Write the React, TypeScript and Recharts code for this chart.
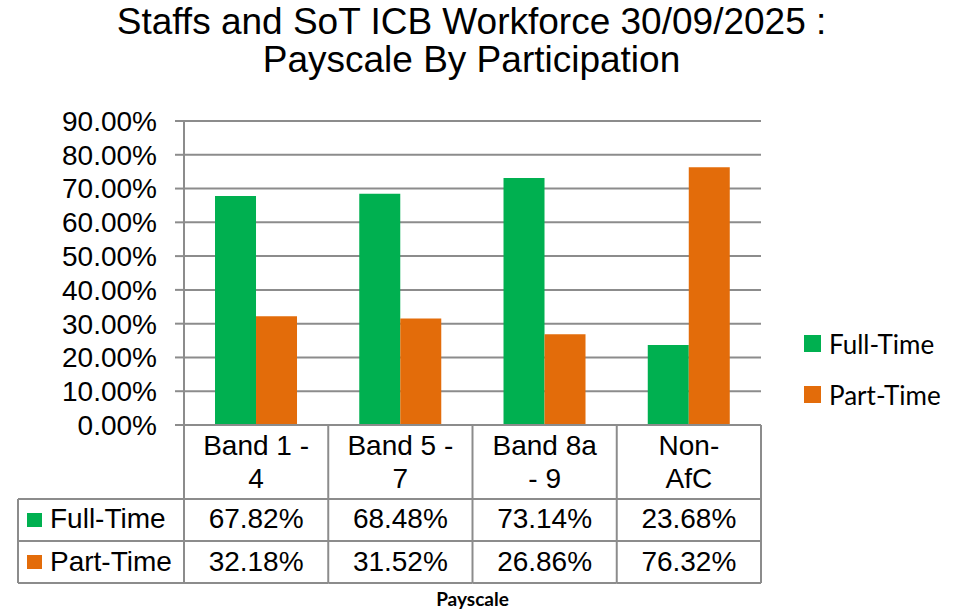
import React from "react";
import { BarChart, Bar, XAxis, YAxis, CartesianGrid, Legend } from "recharts";

// data
const categories = ["Band 1 - 4", "Band 5 - 7", "Band 8a - 9", "Non-AfC"];
const categoryLines = [["Band 1 -", "4"], ["Band 5 -", "7"], ["Band 8a", "- 9"], ["Non-", "AfC"]];
const fullTime = [67.82, 68.48, 73.14, 23.68];
const partTime = [32.18, 31.52, 26.86, 76.32];
const yTicks = [0, 10, 20, 30, 40, 50, 60, 70, 80, 90];

const GREEN = "#00B050";
const ORANGE = "#E36C0A";
const GRID = "#8C8C8C";
const FONT = "'Liberation Sans', Arial, sans-serif";
const LEGEND_FONT = "Lato, 'Open Sans', sans-serif";
const TEXT_SIZE = 28;

const W = 969;
const H = 610;
const PLOT_LEFT = 184;
const PLOT_RIGHT = 761;
const PLOT_TOP = 121;
const PLOT_BOTTOM = 425;
const BAND = (PLOT_RIGHT - PLOT_LEFT) / categories.length;
const TABLE_LEFT = 18;
const ROW_LINES = [499, 541, 583];

const data = categories.map((c, i) => ({ category: c, fullTime: fullTime[i], partTime: partTime[i] }));

const seriesRows = [
  { name: "Full-Time", color: GREEN, values: fullTime },
  { name: "Part-Time", color: ORANGE, values: partTime },
];

function TableTick(props: any) {
  const { x, index } = props;
  const left = x - BAND / 2;
  const right = x + BAND / 2;
  const lines = categoryLines[index] || [];
  return (
    <g>
      {index === 0 && (
        <line x1={left} x2={left} y1={PLOT_BOTTOM} y2={ROW_LINES[2]} stroke={GRID} strokeWidth={2} />
      )}
      <line x1={right} x2={right} y1={PLOT_BOTTOM} y2={ROW_LINES[2]} stroke={GRID} strokeWidth={2} />
      {ROW_LINES.map((ly) => (
        <line key={ly} x1={left} x2={right} y1={ly} y2={ly} stroke={GRID} strokeWidth={2} />
      ))}
      {lines.map((t, k) => (
        <text key={k} x={x} y={455 + k * 33} textAnchor="middle" fontSize={TEXT_SIZE} fontFamily={FONT} fill="#000">
          {t}
        </text>
      ))}
      {seriesRows.map((s, r) => (
        <text key={s.name} x={x} y={528 + r * 43} textAnchor="middle" fontSize={TEXT_SIZE} fontFamily={FONT} fill="#000">
          {s.values[index].toFixed(2)}%
        </text>
      ))}
      {index === 0 && (
        <g>
          <line x1={TABLE_LEFT} x2={TABLE_LEFT} y1={ROW_LINES[0]} y2={ROW_LINES[2]} stroke={GRID} strokeWidth={2} />
          {ROW_LINES.map((ly) => (
            <line key={ly} x1={TABLE_LEFT} x2={left} y1={ly} y2={ly} stroke={GRID} strokeWidth={2} />
          ))}
          {seriesRows.map((s, r) => (
            <g key={s.name}>
              <rect x={27} y={513 + r * 42} width={15} height={14} fill={s.color} />
              <text x={50} y={528 + r * 43} fontSize={TEXT_SIZE} fontFamily={FONT} fill="#000">
                {s.name}
              </text>
            </g>
          ))}
        </g>
      )}
    </g>
  );
}

function LegendContent(props: any) {
  const { payload } = props;
  return (
    <div style={{ fontFamily: LEGEND_FONT, fontSize: 26, color: "#000" }}>
      {(payload || []).map((p: any) => (
        <div key={p.value} style={{ display: "flex", alignItems: "center", height: 51 }}>
          <span style={{ display: "inline-block", width: 17, height: 17, background: p.color, marginRight: 8 }} />
          <span>{p.value}</span>
        </div>
      ))}
    </div>
  );
}

export default function App() {
  return (
    <div style={{ position: "absolute", left: 0, top: 0, width: W, height: H, background: "#fff" }}>
      <div
        style={{
          position: "absolute",
          left: 0,
          top: 3,
          width: 943,
          textAlign: "center",
          fontFamily: FONT,
          fontSize: 37,
          lineHeight: "38px",
          color: "#000",
        }}
      >
        Staffs and SoT ICB Workforce 30/09/2025 :<br />
        Payscale By Participation
      </div>
      <BarChart
        width={W}
        height={H}
        data={data}
        margin={{ top: PLOT_TOP, right: W - PLOT_RIGHT, bottom: 0, left: 14 }}
        barCategoryGap="21.5%"
        barGap={0}
      >
        <CartesianGrid vertical={false} stroke={GRID} strokeWidth={2} />
        <XAxis
          dataKey="category"
          height={H - PLOT_BOTTOM}
          interval={0}
          tick={<TableTick />}
          tickLine={false}
          axisLine={{ stroke: GRID, strokeWidth: 2 }}
        />
        <YAxis
          width={PLOT_LEFT - 14}
          domain={[0, 90]}
          ticks={yTicks}
          interval={0}
          tickFormatter={(v: number) => `${v.toFixed(2)}%`}
          tick={{ fontSize: TEXT_SIZE, fontFamily: FONT, fill: "#000" }}
          tickLine={{ stroke: GRID, strokeWidth: 2 }}
          tickSize={9}
          tickMargin={18}
          axisLine={{ stroke: GRID, strokeWidth: 2 }}
        />
        <Legend
          layout="vertical"
          align="center"
          verticalAlign="middle"
          content={<LegendContent />}
          wrapperStyle={{ position: "absolute", left: 804, top: 318, width: 160, right: "auto", bottom: "auto" }}
        />
        <Bar dataKey="fullTime" name="Full-Time" fill={GREEN} isAnimationActive={false} />
        <Bar dataKey="partTime" name="Part-Time" fill={ORANGE} isAnimationActive={false} />
      </BarChart>
      <div
        style={{
          position: "absolute",
          left: PLOT_LEFT,
          width: PLOT_RIGHT - PLOT_LEFT,
          top: 587,
          textAlign: "center",
          fontFamily: LEGEND_FONT,
          fontWeight: 700,
          fontSize: 19,
          lineHeight: "23px",
          color: "#000",
        }}
      >
        Payscale
      </div>
    </div>
  );
}
